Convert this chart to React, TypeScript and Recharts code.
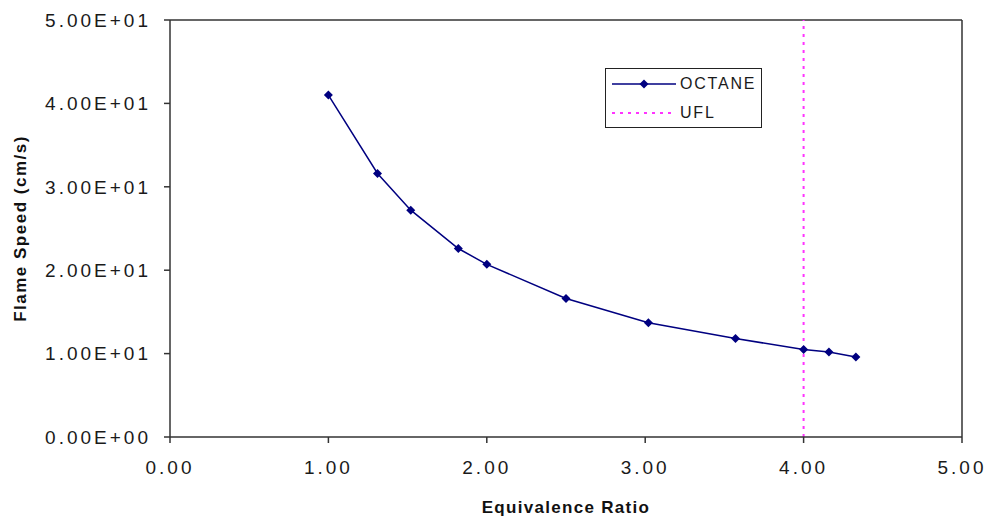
import { LineChart, Line, XAxis, YAxis, ReferenceLine, Legend, Label } from "recharts";

// equivalence ratio vs laminar flame speed
const equivalenceRatio = [1.0, 1.31, 1.52, 1.82, 2.0, 2.5, 3.02, 3.57, 4.0, 4.16, 4.33];
const flameSpeed = [41.0, 31.6, 27.2, 22.6, 20.7, 16.6, 13.7, 11.8, 10.5, 10.2, 9.6];
const uflRatio = 4.0;
const xTicks = [0, 1, 2, 3, 4, 5];
const yTicks = [0, 10, 20, 30, 40, 50];

const octaneData = equivalenceRatio.map((x, i) => ({ x, y: flameSpeed[i] }));
const uflData = [
  { x: uflRatio, y: yTicks[0] },
  { x: uflRatio, y: yTicks[yTicks.length - 1] },
];

const NAVY = "#000080";
const MAGENTA = "#ff33ff";
const AXIS = "#333";
const FONT = "'Liberation Sans', Arial, sans-serif";

const sci = (v: number) => {
  if (v === 0) return "0.00E+00";
  const exp = Math.floor(Math.log10(Math.abs(v)));
  const mant = v / Math.pow(10, exp);
  return `${mant.toFixed(2)}E${exp < 0 ? "-" : "+"}${String(Math.abs(exp)).padStart(2, "0")}`;
};

const Diamond = (props: any) => {
  const { cx, cy } = props;
  if (cx == null || cy == null) return null;
  const r = 4.5;
  return (
    <polygon
      points={`${cx},${cy - r} ${cx + r},${cy} ${cx},${cy + r} ${cx - r},${cy}`}
      fill={NAVY}
    />
  );
};

const tickStyle = { fill: "#1a1a1a", fontSize: 19, fontFamily: FONT, letterSpacing: 3 };

const renderLegend = () => (
  <div
    style={{
      boxSizing: "border-box",
      width: 157,
      height: 60,
      border: "1.5px solid #222",
      background: "#fff",
      fontFamily: FONT,
      fontSize: 16,
      letterSpacing: 1.8,
      color: "#1a1a1a",
      paddingLeft: 6,
      paddingTop: 2.5,
    }}
  >
    <div style={{ display: "flex", alignItems: "center", height: 24 }}>
      <svg width={64} height={14} style={{ marginRight: 4 }}>
        <line x1={0} y1={7} x2={64} y2={7} stroke={NAVY} strokeWidth={1.5} />
        <polygon points="32,2.5 36.5,7 32,11.5 27.5,7" fill={NAVY} />
      </svg>
      <span>OCTANE</span>
    </div>
    <div style={{ display: "flex", alignItems: "center", height: 24, marginTop: 5 }}>
      <svg width={64} height={14} style={{ marginRight: 4 }}>
        <line x1={0} y1={7} x2={64} y2={7} stroke={MAGENTA} strokeWidth={2} strokeDasharray="3 5" />
      </svg>
      <span>UFL</span>
    </div>
  </div>
);

export default function App() {
  return (
    <div style={{ width: 989, height: 522, background: "#fff", fontFamily: FONT }}>
      <style>{"body{margin:0}"}</style>
      <LineChart width={989} height={522} margin={{ top: 20, right: 27, left: 0, bottom: 0 }}>
        <XAxis
          type="number"
          dataKey="x"
          domain={[xTicks[0], xTicks[xTicks.length - 1]]}
          ticks={xTicks}
          tickFormatter={(v) => Number(v).toFixed(2)}
          height={85}
          tickSize={6}
          tickMargin={18}
          tick={tickStyle}
          stroke={AXIS}
          axisLine={{ stroke: AXIS, strokeWidth: 1.5 }}
          tickLine={{ stroke: AXIS, strokeWidth: 1.5 }}
          allowDataOverflow
        >
          <Label
            value="Equivalence Ratio"
            position="insideBottom"
            offset={9}
            style={{ fontSize: 17, fontWeight: 700, fill: "#111", fontFamily: FONT, letterSpacing: 1.3 }}
          />
        </XAxis>
        <YAxis
          type="number"
          dataKey="y"
          domain={[yTicks[0], yTicks[yTicks.length - 1]]}
          ticks={yTicks}
          tickFormatter={sci}
          width={170}
          tickSize={6}
          tickMargin={13}
          tick={tickStyle}
          stroke={AXIS}
          axisLine={{ stroke: AXIS, strokeWidth: 1.5 }}
          tickLine={{ stroke: AXIS, strokeWidth: 1.5 }}
          allowDataOverflow
        >
          <Label
            value="Flame Speed (cm/s)"
            angle={-90}
            position="insideLeft"
            offset={20}
            style={{ textAnchor: "middle", fontSize: 17, fontWeight: 700, fill: "#111", fontFamily: FONT, letterSpacing: 1.5 }}
          />
        </YAxis>
        <ReferenceLine y={yTicks[yTicks.length - 1]} stroke={AXIS} strokeWidth={1.5} />
        <ReferenceLine x={xTicks[xTicks.length - 1]} stroke={AXIS} strokeWidth={1.5} />
        <Line
          data={uflData}
          dataKey="y"
          name="UFL"
          stroke={MAGENTA}
          strokeWidth={2}
          strokeDasharray="3 5"
          dot={false}
          activeDot={false}
          isAnimationActive={false}
        />
        <Line
          data={octaneData}
          dataKey="y"
          name="OCTANE"
          type="linear"
          stroke={NAVY}
          strokeWidth={1.5}
          dot={<Diamond />}
          activeDot={false}
          isAnimationActive={false}
        />
        <Legend
          layout="vertical"
          verticalAlign="middle"
          align="center"
          content={renderLegend}
          wrapperStyle={{ left: 605, top: 68, width: 157, height: 60 }}
        />
      </LineChart>
    </div>
  );
}
